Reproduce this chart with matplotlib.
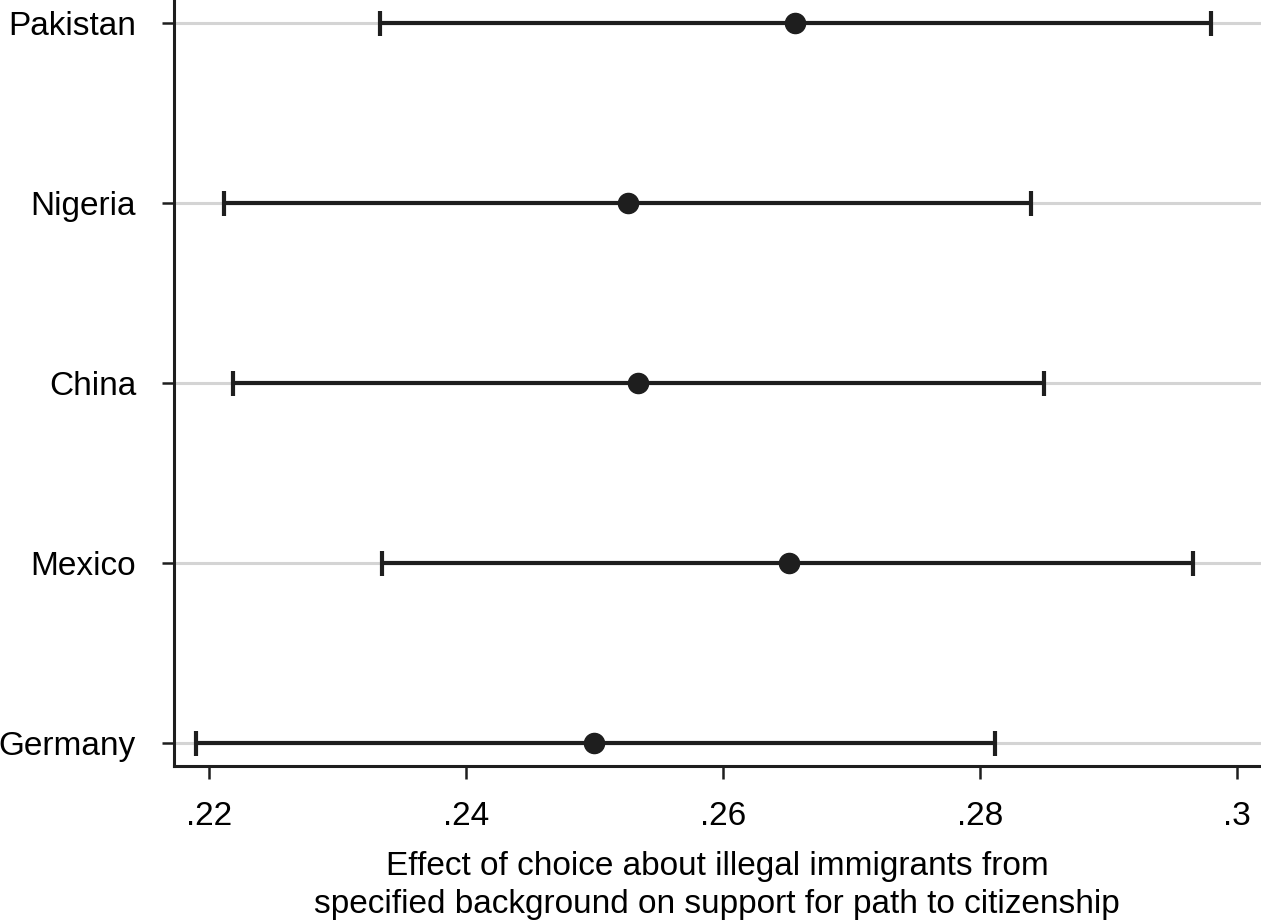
import matplotlib.pyplot as plt

countries = ['Germany', 'Mexico', 'China', 'Nigeria', 'Pakistan']
estimates = [0.2500, 0.2651, 0.2534, 0.2526, 0.2656]
lower = [0.2190, 0.2335, 0.2219, 0.2212, 0.2333]
upper = [0.2812, 0.2966, 0.2850, 0.2840, 0.2980]
xticks = [0.22, 0.24, 0.26, 0.28, 0.30]
xticklabels = ['.22', '.24', '.26', '.28', '.3']

plt.rcParams['font.family'] = ['Liberation Sans', 'DejaVu Sans']

fig = plt.figure(figsize=(12.61, 9.24), dpi=100)
ax = fig.add_axes([0.1376, 0.171, 0.8624, 0.829])

ypos = list(range(1, len(countries) + 1))

# horizontal grid lines at each country
for y in ypos:
    ax.axhline(y, color='#d4d4d4', lw=2.2, zorder=0)

err_lo = [e - l for e, l in zip(estimates, lower)]
err_hi = [u - e for e, u in zip(estimates, upper)]
ax.errorbar(estimates, ypos, xerr=[err_lo, err_hi], fmt='o', color='#1e1e1e',
            ms=14.5, elinewidth=3, capsize=9, capthick=3, zorder=3)

ax.set_xlim(0.21724, 0.30187)
ax.set_ylim(0.872, 5.128)
ax.set_yticks(ypos)
ax.set_yticklabels(countries, fontsize=24)
ax.set_xticks(xticks)
ax.set_xticklabels(xticklabels, fontsize=24)
ax.tick_params(axis='both', length=9, width=1.8, color='#1e1e1e')
ax.tick_params(axis='y', pad=18)
ax.tick_params(axis='x', pad=16)

for side in ['top', 'right']:
    ax.spines[side].set_visible(False)
for side in ['left', 'bottom']:
    ax.spines[side].set_linewidth(2.2)
    ax.spines[side].set_color('#1e1e1e')

ax.set_xlabel('Effect of choice about illegal immigrants from\n'
              'specified background on support for path to citizenship',
              fontsize=24, labelpad=14, linespacing=1.3)

fig.savefig('out.png', dpi=100)
